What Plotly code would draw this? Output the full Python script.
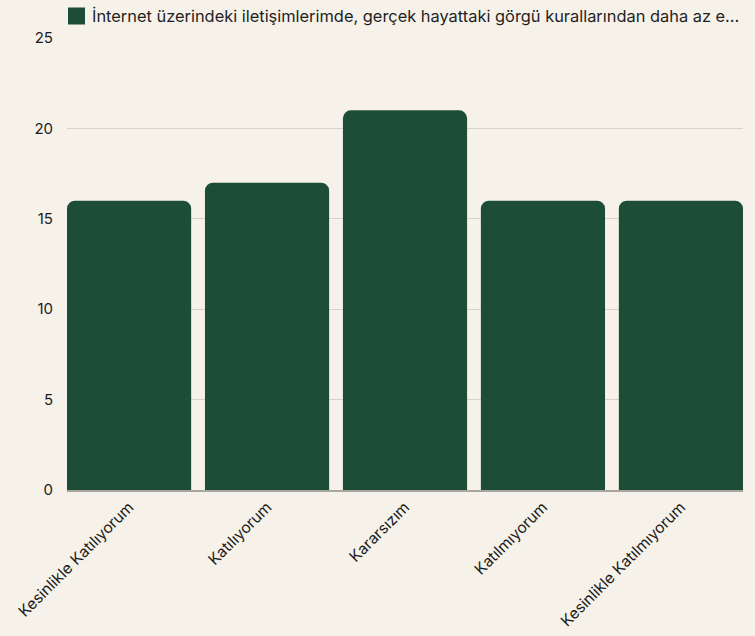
import plotly.graph_objects as go

# Survey responses and their counts
categories = [
    "Kesinlikle Katılıyorum",
    "Katılıyorum",
    "Kararsızım",
    "Katılmıyorum",
    "Kesinlikle Katılmıyorum",
]
counts = [16, 17, 21, 16, 16]
series_name = "İnternet üzerindeki iletişimlerimde, gerçek hayattaki görgü kurallarından daha az e..."
y_ticks = [0, 5, 10, 15, 20, 25]

BAR_COLOR = "#1d4d37"
BG_COLOR = "#f6f2ea"
FONT = "Inter, 'Open Sans', sans-serif"

W, H = 755, 636
M_L, M_R, M_T, M_B = 67, 12, 38, 146
PLOT_W = W - M_L - M_R
PLOT_H = H - M_T - M_B


def px_x(px):
    """Horizontal pixel position -> paper coordinate."""
    return (px - M_L) / PLOT_W


def px_y(py):
    """Vertical pixel position (from top) -> paper coordinate."""
    return 1 + (M_T - py) / PLOT_H


fig = go.Figure(
    go.Bar(
        x=categories,
        y=counts,
        name=series_name,
        marker=dict(color=BAR_COLOR, cornerradius=8, line=dict(width=0)),
        showlegend=False,
    )
)

# Legend key: colour swatch plus series label above the plot
fig.add_shape(
    type="rect",
    xref="paper", yref="paper",
    x0=px_x(68), x1=px_x(85), y0=px_y(24.5), y1=px_y(7.5),
    fillcolor=BAR_COLOR, line=dict(width=0),
)
fig.add_annotation(
    text=series_name,
    xref="paper", yref="paper",
    x=px_x(90), y=px_y(16),
    xanchor="left", yanchor="middle",
    showarrow=False,
    font=dict(size=16.4, color="#1f1f1f"),
)

fig.update_layout(
    width=W,
    height=H,
    margin=dict(l=M_L, r=M_R, t=M_T, b=M_B, autoexpand=False),
    paper_bgcolor=BG_COLOR,
    plot_bgcolor=BG_COLOR,
    font=dict(family=FONT, size=15, color="#1c1c1c"),
    bargap=0.1,
    showlegend=False,
    xaxis=dict(
        range=[-0.45, 4.45],
        tickangle=-45,
        showgrid=False,
        showline=True,
        linecolor="#a9a6a0",
        linewidth=2,
        ticks="",
        tickfont=dict(size=15.5, color="#1c1c1c"),
        fixedrange=True,
    ),
    yaxis=dict(
        range=[0, 25],
        tickvals=y_ticks,
        showgrid=True,
        gridcolor="#d6d2ca",
        gridwidth=1,
        zeroline=False,
        showline=False,
        ticks="",
        ticklabelstandoff=13,
        tickfont=dict(size=15, color="#1c1c1c"),
        fixedrange=True,
    ),
)

fig.write_html("out.html")
